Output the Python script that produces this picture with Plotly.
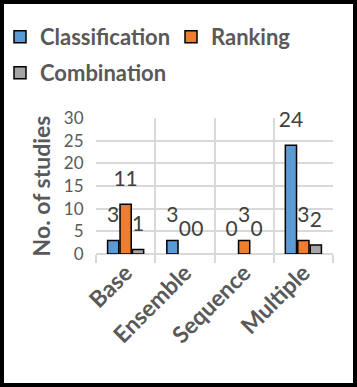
import plotly.graph_objects as go

categories = ['Base', 'Ensemble', 'Sequence', 'Multiple']
classification = [3, 3, 0, 24]
ranking = [11, 0, 3, 3]
combination = [1, 0, 0, 2]

series_names = ['Classification', 'Ranking', 'Combination']
series_values = [classification, ranking, combination]
colors = ['#5b9bd5', '#ed7d31', '#a5a5a5']
legend_ids = ['legend', 'legend2', 'legend3']

font_family = 'Lato, Open Sans, sans-serif'
text_gray = '#595959'
grid_gray = '#d9d9d9'

fig = go.Figure()

for name, vals, col, lg in zip(series_names, series_values, colors, legend_ids):
    fig.add_trace(go.Bar(
        x=categories, y=vals, name=name, legend=lg,
        marker=dict(color=col, line=dict(color='black',
                                         width=[1.5 if v else 0 for v in vals])),
    ))

# data labels, raised above the bar tops like the original
for name, vals in zip(series_names, series_values):
    fig.add_trace(go.Scatter(
        x=categories, y=vals, mode='markers+text',
        text=[str(v) for v in vals], textposition='top center',
        textfont=dict(family=font_family, size=21, color='#404040'),
        marker=dict(size=19, color='rgba(0,0,0,0)'),
        showlegend=False, hoverinfo='skip', cliponaxis=False,
    ))

pw, ph = 237, 136
ml, mr, mt, mb = 96, 24, 118, 133


def legend_at(px, py):
    # legend box placed by its top-left corner in page pixels
    return dict(
        orientation='h', x=(px - ml) / pw, xanchor='left',
        y=1 + (mt - py) / ph, yanchor='top',
        bgcolor='rgba(0,0,0,0)',
        font=dict(family=font_family, size=22, color=text_gray, weight='bold'),
    )


fig.update_layout(
    width=357, height=387,
    margin=dict(l=ml, r=mr, t=mt, b=mb, autoexpand=False),
    paper_bgcolor='white', plot_bgcolor='white',
    barmode='group', bargap=0.37, bargroupgap=0.1,
    scattermode='group', scattergap=0.37,
    font=dict(family=font_family, color=text_gray),
    legend=legend_at(0, 16),
    legend2=legend_at(171, 16),
    legend3=legend_at(0, 52),
    xaxis=dict(
        showgrid=True, gridcolor=grid_gray, gridwidth=1.5,
        tickson='boundaries', ticks='outside', ticklen=8, tickcolor=grid_gray,
        tickwidth=1.5, tickangle=-45,
        tickfont=dict(family=font_family, size=23, color=text_gray, weight='bold'),
        showline=False, zeroline=False,
    ),
    yaxis=dict(
        range=[0, 30], dtick=5, showgrid=True, gridcolor=grid_gray, gridwidth=1.5,
        zeroline=True, zerolinecolor=grid_gray, zerolinewidth=1.5,
        ticks='outside', ticklen=8, tickcolor='rgba(0,0,0,0)',
        tickfont=dict(family=font_family, size=17, color=text_gray),
        title=dict(text='No. of studies', standoff=6,
                   font=dict(family=font_family, size=23, color=text_gray, weight='bold')),
    ),
    shapes=[dict(
        type='rect', xref='paper', yref='paper',
        x0=(2 - ml) / pw, x1=1 + (mr - 2) / pw,
        y0=-(mb - 2) / ph, y1=1 + (mt - 2) / ph,
        line=dict(color='black', width=4),
    )],
)

fig.write_html('out.html', config={'displayModeBar': False},
               post_script="document.body.style.margin='0';")
